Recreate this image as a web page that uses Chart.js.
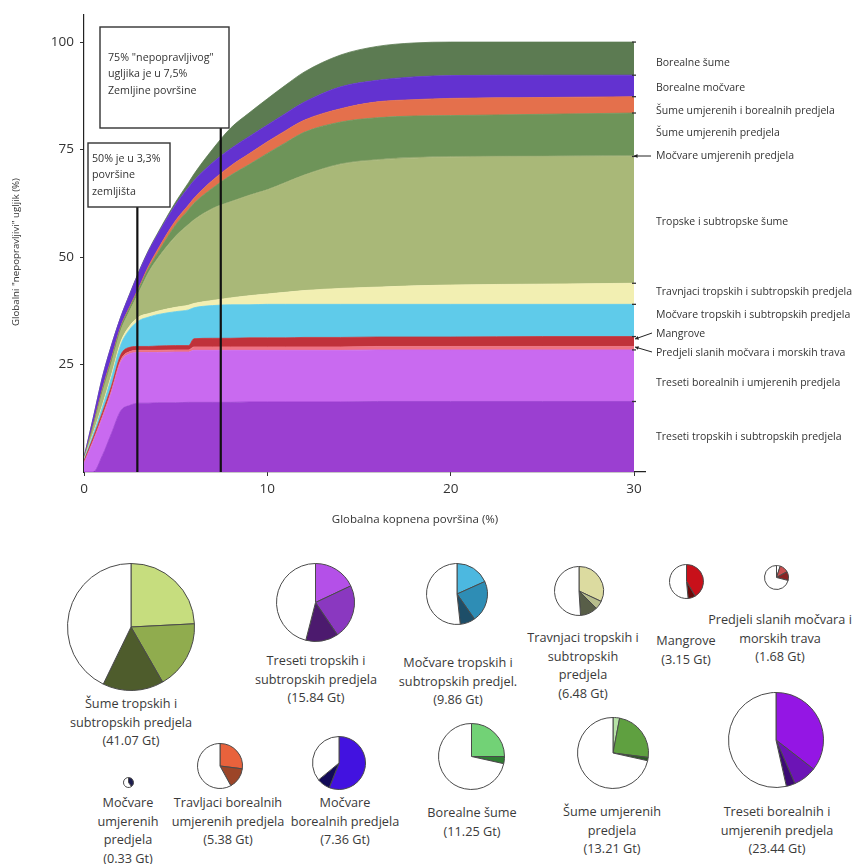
<!DOCTYPE html>
<html><head><meta charset="utf-8">
<script src="https://cdn.jsdelivr.net/npm/chart.js@4"></script>
<style>
html,body{margin:0;padding:0;background:#fff;width:861px;height:864px;overflow:hidden;font-family:"Open Sans",sans-serif;}
#main{position:absolute;left:0;top:0;}
.pie{position:absolute;}
.lbl{position:absolute;text-align:center;font-size:12.7px;line-height:18.5px;color:#3a3a3a;white-space:nowrap;transform:translateX(-50%);}
</style></head><body>
<canvas id="main" width="861" height="545"></canvas>
<div id="pies"></div>
<script>
// ---------- DATA: stacked area (cumulative upper boundary of each layer, % of global irrecoverable carbon) ----------
const landPct = [0,0.5,1,1.5,2,2.5,3,3.5,4,5,5.7,6,7,8,9,10,11,12,14,16,18,20,25,30];
const tresetiTropTop   = [0,0,3.8,9,14.2,15.5,16,16,16.1,16.1,16.2,16.2,16.2,16.2,16.3,16.3,16.3,16.3,16.3,16.4,16.4,16.4,16.4,16.4];
const tresetiBorTop    = [2.0,7.0,12.5,18.5,25.5,27.5,27.8,27.8,27.8,27.9,27.9,28.3,28.3,28.3,28.3,28.3,28.3,28.3,28.3,28.4,28.4,28.4,28.4,28.4];
const slaneMocvTop     = [2.2,7.3,12.9,19.0,26.0,28.0,28.3,28.3,28.3,28.4,28.4,29.1,29.1,29.1,29.1,29.1,29.1,29.1,29.1,29.2,29.2,29.2,29.2,29.2];
const mangroveTop      = [2.6,8.0,13.8,20.0,27.2,29.0,29.2,29.2,29.3,29.4,29.4,31.0,31.1,31.1,31.2,31.2,31.2,31.3,31.3,31.4,31.4,31.4,31.5,31.5];
const mocvTropTop      = [2.8,8.7,15.0,22.0,29.5,33.2,35.2,36.0,36.6,37.3,37.7,38.2,38.7,38.9,38.9,39.0,39.0,39.0,39.0,39.0,39.0,39.0,39.0,39.0];
const travnTropTop     = [2.9,9.0,15.5,22.6,30.2,34.0,36.1,36.8,37.4,38.3,38.8,39.2,39.9,40.5,41.0,41.4,41.8,42.2,42.7,43.0,43.3,43.5,43.7,43.9];
const sumeTropTop      = [3.0,10.2,18.3,25.3,32.8,37.5,41.8,46.2,49.5,54.8,57.5,58.6,61.2,62.8,64.3,65.6,67.3,69.0,71.5,72.5,73.0,73.2,73.3,73.4];
const mocvUmjTop       = [3.0,10.2,18.3,25.3,32.8,37.6,41.9,46.3,49.6,54.9,57.6,58.7,61.3,62.9,64.4,65.7,67.4,69.1,71.7,72.7,73.2,73.4,73.5,73.6];
const sumeUmjTop       = [3.0,10.7,19.0,26.2,33.6,38.3,42.7,47.2,50.8,57.5,61.0,62.5,66.0,69.0,71.5,74.1,76.6,79.0,81.4,82.4,82.8,82.9,83.2,83.5];
const sumeUmjBorTop    = [3.0,10.9,19.3,26.5,33.8,38.5,43.0,47.7,51.6,58.5,62.1,63.7,67.8,71.2,74.0,76.8,79.4,81.8,84.5,86.1,86.6,86.9,87.1,87.3];
const borMocvTop       = [3.4,12.5,22.0,29.5,36.0,41.4,46.6,51.2,55.1,62.2,66.2,67.8,71.9,75.2,78.0,80.7,83.4,86.0,89.6,91.1,91.9,92.2,92.3,92.3];
const borSumeTop       = [3.4,12.5,22.0,29.5,36.0,41.5,46.7,51.4,55.4,62.8,67.3,69.3,75.0,80.0,83.5,86.8,90.0,93.0,97.0,99.0,99.8,100,100,100];

const layerNames = ['Treseti tropskih i subtropskih predjela','Treseti borealnih i umjerenih predjela','Predjeli slanih močvara i morskih trava','Mangrove','Močvare tropskih i subtropskih predjela','Travnjaci tropskih i subtropskih predjela','Tropske i subtropske šume','Močvare umjerenih predjela','Šume umjerenih predjela','Šume umjerenih i borealnih predjela','Borealne močvare','Borealne šume'];
const layerTops = [tresetiTropTop,tresetiBorTop,slaneMocvTop,mangroveTop,mocvTropTop,travnTropTop,sumeTropTop,mocvUmjTop,sumeUmjTop,sumeUmjBorTop,borMocvTop,borSumeTop];

const xTicks = [0,10,20,30];
const yTicks = [25,50,75,100];
const markerLandPct = [2.91, 7.46];
const markerTexts = [['50% je u 3,3%','površine','zemljišta'],['75% "nepopravljivog"','ugljika je u 7,5%','Zemljine površine']];

// ---------- DATA: pies ----------
const pieNames = [
 ['Šume tropskih i','subtropskih predjela'],
 ['Treseti tropskih i','subtropskih predjela'],
 ['Močvare tropskih i','subtropskih predjel.'],
 ['Travnjaci tropskih i','subtropskih','predjela'],
 ['Mangrove'],
 ['Predjeli slanih močvara i','morskih trava'],
 ['Močvare','umjerenih','predjela'],
 ['Travljaci borealnih','umjerenih predjela'],
 ['Močvare','borealnih predjela'],
 ['Borealne šume'],
 ['Šume umjerenih','predjela'],
 ['Treseti borealnih i','umjerenih predjela']
];
const pieTotalsGt = [41.07,15.84,9.86,6.48,3.15,1.68,0.33,5.38,7.36,11.25,13.21,23.44];
const pieShares = [
 [24.2,17.5,15.5,42.8],
 [18,22.5,13.5,46],
 [18.3,22,8,51.7],
 [32,5.5,11.5,51],
 [41.5,7,51.5],
 [5,12,12,71],
 [40,60],
 [27,15,58],
 [56,8,36],
 [25,3.5,71.5],
 [3,24,1.5,71.5],
 [35.5,8,3,53.5]
];

// ---------- STYLES / LAYOUT ----------
const layerColors = ['#9b3fd1','#c96af0','#ee7384','#c0323a','#5fcbea','#f2efb2','#a9b878','#86a065','#6e9459','#e4704c','#6332d0','#5c7b52'];
const W = '#ffffff';
const pieColors = [
 ['#c6dd7e','#90ac4e','#4e5c2c',W],
 ['#b450e8','#8a38c0','#4c1a6e',W],
 ['#4cb8e0','#2e8db5','#1d4e68',W],
 ['#dcdba0','#b7bd8c','#585e48',W],
 ['#c8101a','#6a0808',W],
 [W,'#c85050','#8a2424',W],
 ['#1c1c50',W],
 ['#e8623c','#9c4528',W],
 ['#4212e0','#120a58',W],
 ['#72d276','#2e7e32',W],
 ['#b6e2a6','#5fa040','#2a5c22',W],
 ['#9416e4','#6c14b6','#3c0a74',W]
];
const pieCenters = [[131,627],[315,602],[457,594],[579,591],[686,581],[776,577],[128,782],[220,766],[339,763],[471,756],[613,753],[776,740]];
const pieLabelPos = [[131,694],[316,651],[458,653],[583,628],[686,631],[780,610],[128,793],[228,793],[345,793],[472,803],[612,802],[777,802]];
const markerBoxes = [{l:88,t:143,r:170,b:207,tx:92,ty:159},{l:100,t:27,r:229,b:128,tx:108,ty:58}];
const rightLabelY = [437,383,353,334,315,292,222,156,133,111,88,63];

Chart.defaults.font.family = '"Open Sans", sans-serif';

function arrow(ctx,x1,y1,x2,y2){
  ctx.beginPath();ctx.moveTo(x1,y1);ctx.lineTo(x2,y2);ctx.stroke();
  const a=Math.atan2(y2-y1,x2-x1),h=4;
  ctx.beginPath();ctx.moveTo(x2,y2);
  ctx.lineTo(x2-h*Math.cos(a-0.5),y2-h*Math.sin(a-0.5));
  ctx.lineTo(x2-h*Math.cos(a+0.5),y2-h*Math.sin(a+0.5));
  ctx.closePath();ctx.fill();
}

const overlay = {
  id:'overlay',
  afterDatasetsDraw(chart){
    const {ctx, scales:{x,y}} = chart;
    ctx.save();
    // small boundary marks at the right edge
    ctx.strokeStyle='#333'; ctx.lineWidth=1.3;
    const xr = x.getPixelForValue(landPct[landPct.length-1]);
    [0,1,3,4,5,6,8,9,10,11].forEach(i=>{
      const py = y.getPixelForValue(layerTops[i][layerTops[i].length-1]);
      ctx.beginPath(); ctx.moveTo(xr-2,py); ctx.lineTo(xr+2,py); ctx.stroke();
    });
    ctx.strokeStyle='#111'; ctx.lineWidth=2.2;
    markerLandPct.forEach((m,i)=>{
      const px=x.getPixelForValue(m);
      ctx.beginPath(); ctx.moveTo(px, markerBoxes[i].b); ctx.lineTo(px, y.getPixelForValue(0)); ctx.stroke();
    });
    markerBoxes.forEach((b,i)=>{
      ctx.fillStyle='#fff'; ctx.fillRect(b.l,b.t,b.r-b.l,b.b-b.t);
      ctx.strokeStyle='#333'; ctx.lineWidth=1.4; ctx.strokeRect(b.l,b.t,b.r-b.l,b.b-b.t);
      ctx.fillStyle='#333'; ctx.font='10.7px "Open Sans", sans-serif'; ctx.textBaseline='middle'; ctx.textAlign='left';
      markerTexts[i].forEach((t,k)=>ctx.fillText(t,b.tx,b.ty+k*16.3));
    });
    ctx.restore();
  },
  afterDraw(chart){
    const {ctx} = chart;
    ctx.save();
    ctx.fillStyle='#333'; ctx.font='10.5px "Open Sans", sans-serif'; ctx.textBaseline='middle'; ctx.textAlign='left';
    layerNames.forEach((n,i)=>ctx.fillText(n,656,rightLabelY[i]));
    ctx.strokeStyle='#222'; ctx.fillStyle='#222'; ctx.lineWidth=1;
    arrow(ctx,651,156,634,156);
    arrow(ctx,652,333,635,339);
    arrow(ctx,652,352,635,347);
    // axis titles
    ctx.fillStyle='#333'; ctx.font='11.5px "Open Sans", sans-serif'; ctx.textAlign='center';
    ctx.fillText('Globalna kopnena površina (%)',415,520);
    ctx.translate(16,252); ctx.rotate(-Math.PI/2);
    ctx.font='9.7px "Open Sans", sans-serif';
    ctx.fillText('Globalni "nepopravljivi" ugljik (%)',0,0);
    ctx.restore();
  }
};

new Chart(document.getElementById('main'),{
  type:'line',
  data:{datasets: layerTops.map((arr,i)=>({
    label: layerNames[i],
    data: landPct.map((x,j)=>({x, y: arr[j]})),
    fill: i===0 ? 'origin' : '-1',
    backgroundColor: layerColors[i],
    borderColor: layerColors[i],
    borderWidth: 0.8,
    pointRadius: 0,
    cubicInterpolationMode: 'monotone'
  }))},
  options:{
    responsive:false, devicePixelRatio:1, animation:false,
    layout:{padding:{top:15,right:216,left:0,bottom:0}},
    plugins:{legend:{display:false},tooltip:{enabled:false}},
    scales:{
      x:{type:'linear',min:0,max:30.6,
        afterBuildTicks:s=>{s.ticks=xTicks.map(v=>({value:v}));},
        afterFit:s=>{s.height=73;},
        ticks:{color:'#333',font:{size:13.5},padding:5,maxRotation:0},
        grid:{drawOnChartArea:false,drawTicks:true,tickLength:4,color:'#333'},
        border:{color:'#222',width:1.2}},
      y:{type:'linear',min:0,max:106.3,
        afterBuildTicks:s=>{s.ticks=yTicks.map(v=>({value:v}));},
        afterFit:s=>{s.width=84;},
        ticks:{color:'#333',font:{size:13.5},padding:6},
        grid:{drawOnChartArea:false,drawTicks:true,tickLength:4,color:'#333'},
        border:{color:'#222',width:1.2}}
    }
  },
  plugins:[overlay]
});

// ---------- pies ----------
const piesDiv = document.getElementById('pies');
pieTotalsGt.forEach((gt,i)=>{
  const r = 10*Math.sqrt(gt) - 0.5;
  const S = Math.ceil(2*r + 4);
  const c = document.createElement('canvas');
  c.width=S; c.height=S; c.className='pie';
  c.style.left=(pieCenters[i][0]-S/2)+'px'; c.style.top=(pieCenters[i][1]-S/2)+'px';
  c.style.width=S+'px'; c.style.height=S+'px';
  piesDiv.appendChild(c);
  new Chart(c,{type:'pie',
    data:{labels:pieShares[i].map((_,k)=>String(k)),datasets:[{data:pieShares[i],backgroundColor:pieColors[i],borderColor:'#4a4a4a',borderWidth:1}]},
    options:{responsive:false,devicePixelRatio:1,animation:false,layout:{padding:2},plugins:{legend:{display:false},tooltip:{enabled:false}}}
  });
  const d = document.createElement('div');
  d.className='lbl';
  d.style.left=pieLabelPos[i][0]+'px'; d.style.top=pieLabelPos[i][1]+'px';
  d.innerHTML = pieNames[i].concat(['('+gt.toFixed(2)+' Gt)']).join('<br>');
  piesDiv.appendChild(d);
});
</script></body></html>
